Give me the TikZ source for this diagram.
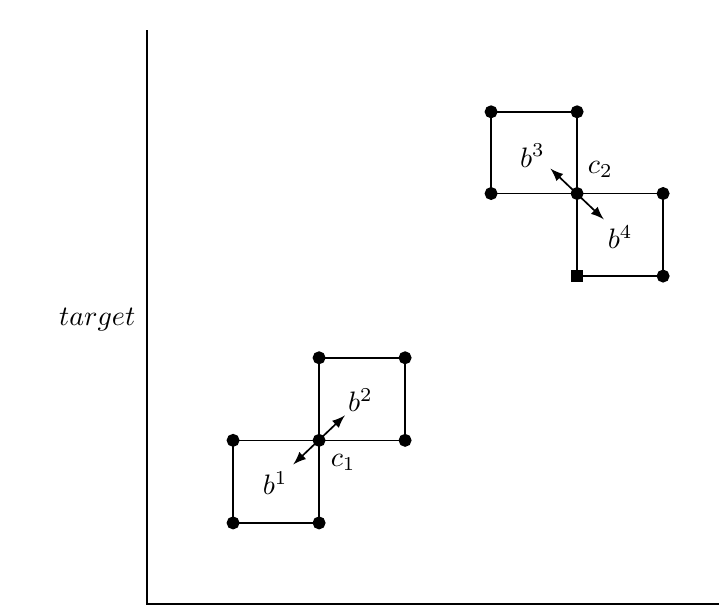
\documentclass[tikz,border=0pt]{standalone}
\usepackage{amsmath}
\usepackage{tikz}
\usetikzlibrary{arrows,calc}
\tikzstyle{dot} = [fill=black]
\tikzstyle{dir} = [<->, >=latex, semithick]

\begin{document}
\begin{tikzpicture}[x=1.075cm,y=1.075cm,semithick]
\useasboundingbox (-1.71,-0.023) rectangle (6.65,7.02);
% axes
\coordinate (o) at (0,0);
\coordinate (ytop) at (0,6.67);
\coordinate (xend) at (6.65,0);
\draw (ytop) -- (o) -- (xend);
\draw (-0.58,3.30) node {$target$};
% lower pair
\coordinate (p1) at (1,0.94);
\coordinate (p2) at (2,0.94);
\coordinate (c1) at (2,1.9);
\coordinate (p4) at (1,1.9);
\coordinate (q2) at (3,1.9);
\coordinate (q3) at (3,2.86);
\coordinate (q4) at (2,2.86);
\draw (p1) -- (p2) -- (c1) -- (p4) -- cycle;
\draw (c1) -- (q2) -- (q3) -- (q4) -- cycle;
\foreach \p in {p1,p2,c1,p4,q2,q3,q4}
  \draw [dot] (\p) circle (2pt);
\coordinate (b1) at ($(c1)+(-0.3,-0.28)$);
\coordinate (b2) at ($(c1)+(0.3,0.29)$);
\draw [dir] (b1) -- (b2);
\draw (1.49,1.40) node {$b^1$};
\draw (2.48,2.37) node {$b^2$};
\draw (2.28,1.64) node {$c_1$};
% upper pair
\coordinate (r1) at (4,4.77);
\coordinate (c2) at (5,4.77);
\coordinate (r3) at (5,5.72);
\coordinate (r4) at (4,5.72);
\coordinate (s1) at (5,3.81);
\coordinate (s2) at (6,3.81);
\coordinate (s3) at (6,4.77);
\draw (r1) -- (c2) -- (r3) -- (r4) -- cycle;
\draw (s1) -- (s2) -- (s3) -- (c2) -- cycle;
\foreach \p in {r1,c2,r3,r4,s2,s3}
  \draw [dot] (\p) circle (2pt);
\fill (s1) ++(-2pt,-2pt) rectangle ++(4pt,4pt);
\coordinate (b3) at ($(c2)+(-0.31,0.29)$);
\coordinate (b4) at ($(c2)+(0.31,-0.30)$);
\draw [dir] (b3) -- (b4);
\draw (4.48,5.21) node {$b^3$};
\draw (5.27,5.05) node {$c_2$};
\draw (5.50,4.26) node {$b^4$};
\end{tikzpicture}
\end{document}
